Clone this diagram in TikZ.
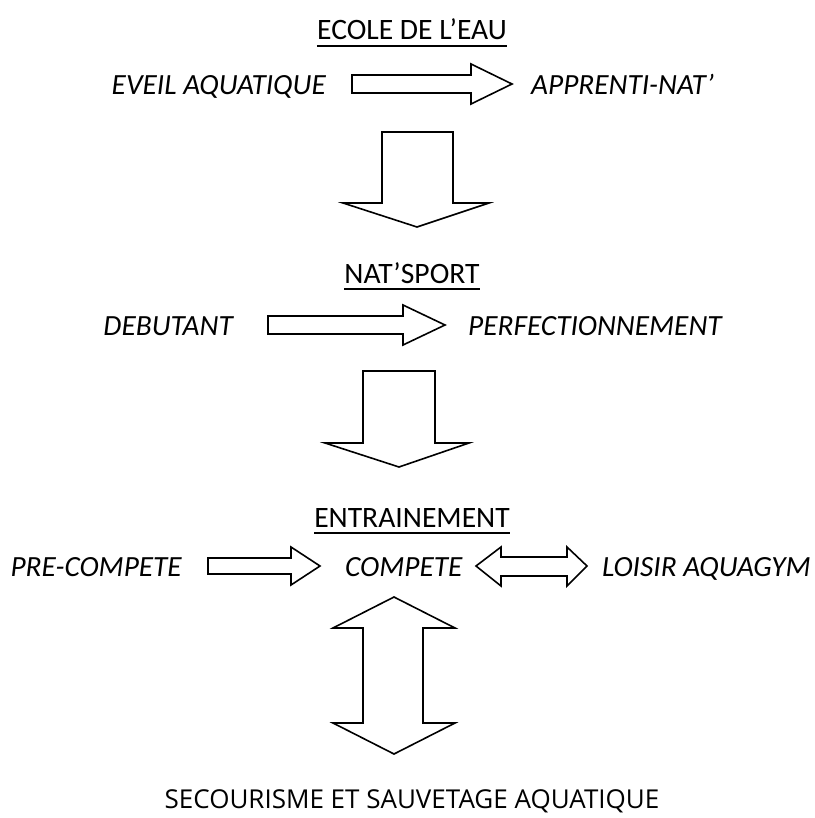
\documentclass[tikz,border=0pt]{standalone}
\usepackage{fontspec}
\setmainfont{Carlito}
\newfontfamily\segoe{Open Sans}
\begin{document}
\begin{tikzpicture}[x=1pt,y=-1pt,
  lbl/.style={inner sep=0pt, font=\fontsize{29.3}{33}\selectfont\itshape},
  head/.style={inner sep=0pt, font=\fontsize{29.6}{33}\selectfont},
  blockarrow/.style={draw=black, line width=1.6pt, line join=miter, fill=white},
  uline/.style={line width=1.5pt}]
\useasboundingbox (0,0) rectangle (814,818);

% headings
\node[head, anchor=base] (h1) at (412,40) {ECOLE DE L’EAU};
\draw[uline] ([yshift=-6pt]h1.base west) -- ([yshift=-6pt]h1.base east);
\node[head, anchor=base] (h2) at (412,283) {NAT’SPORT};
\draw[uline] ([yshift=-6pt]h2.base west) -- ([yshift=-6pt]h2.base east);
\node[head, anchor=base] (h3) at (412,527) {ENTRAINEMENT};
\draw[uline] ([yshift=-6pt]h3.base west) -- ([yshift=-6pt]h3.base east);

% row 1
\node[lbl, anchor=base east] (eveil) at (326,95) {EVEIL AQUATIQUE};
\node[lbl, anchor=base west] (appr) at (531,95) {APPRENTI-NAT’};
\draw[blockarrow] (352,75) -- (471,75) -- (471,64) -- (512,84) -- (471,104) -- (471,93) -- (352,93) -- cycle;

% down arrow 1
\draw[blockarrow] (382,132) -- (453,132) -- (453,203) -- (489,203) -- (417,227) -- (343,203) -- (382,203) -- cycle;

% row 2
\node[lbl, anchor=base east] (deb) at (233,335) {DEBUTANT};
\node[lbl, anchor=base west] (perf) at (468,335) {PERFECTIONNEMENT};
\draw[blockarrow] (268,316) -- (403,316) -- (403,305) -- (445,325) -- (403,345) -- (403,334) -- (268,334) -- cycle;

% down arrow 2
\draw[blockarrow] (363,371) -- (435,371) -- (435,443) -- (469,443) -- (399,467) -- (325,443) -- (363,443) -- cycle;

% row 3
\node[lbl, anchor=base east] (pre) at (182,576) {PRE-COMPETE};
\node[lbl, anchor=base west] (comp) at (345,576) {COMPETE};
\node[lbl, anchor=base west] (lois) at (602,576) {LOISIR AQUAGYM};
\draw[blockarrow] (208,558) -- (291,558) -- (291,547) -- (320,566) -- (291,585) -- (291,574) -- (208,574) -- cycle;
\draw[blockarrow] (476,566) -- (501,547) -- (501,557) -- (567,557) -- (567,547) -- (587,566) -- (567,586) -- (567,576) -- (501,576) -- (501,586) -- cycle;

% vertical double arrow
\draw[blockarrow] (394,597) -- (455,628) -- (423,628) -- (423,723) -- (455,723) -- (394,754) -- (333,723) -- (363,723) -- (363,628) -- (333,628) -- cycle;

% bottom
\node[inner sep=0pt, anchor=base, font=\segoe\fontsize{26}{30}\selectfont] (sec) at (412,808) {SECOURISME ET SAUVETAGE AQUATIQUE};
\end{tikzpicture}
\end{document}
